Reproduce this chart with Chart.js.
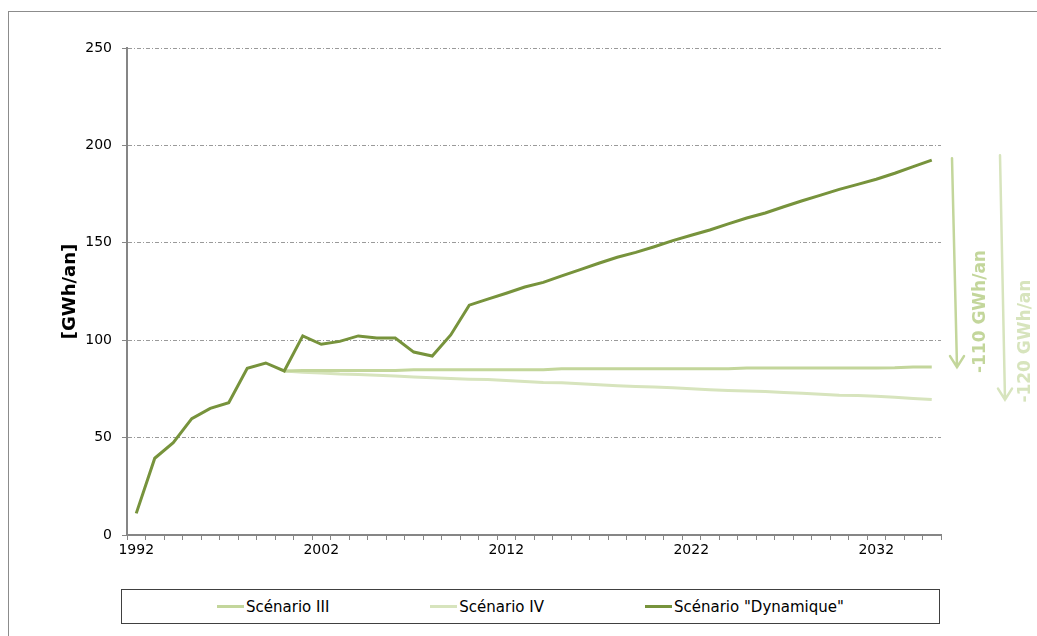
<!DOCTYPE html>
<html lang="fr">
<head>
<meta charset="UTF-8">
<title>Scénarios consommation [GWh/an]</title>
<script src="https://cdn.jsdelivr.net/npm/chart.js"></script>
<style>
  html, body { margin: 0; padding: 0; background: #fff; overflow: hidden; }
  #wrap { position: relative; width: 1037px; height: 636px; overflow: hidden; }
  #frame { position: absolute; left: 8px; top: 11px; width: 1100px; height: 700px; border: 1px solid #8c8c8c; }
  #myChart { position: absolute; left: 0; top: 0; }
  #legend {
    position: absolute; left: 121px; top: 589px; width: 817px; height: 33px;
    border: 1px solid #404040; background: #fff;
    display: flex; justify-content: center; align-items: center; gap: 101px;
    font: 15px "DejaVu Sans", sans-serif; color: #000;
  }
  .item { display: flex; align-items: center; white-space: nowrap; }
  .swatch { display: inline-block; width: 27px; height: 3px; margin-right: 2px; }
</style>
</head>
<body>
<div id="wrap">
  <div id="frame"></div>
  <canvas id="myChart" width="1037" height="636"></canvas>
  <div id="legend"></div>
</div>

<script>
// years on the category axis
var years = [1992, 1993, 1994, 1995, 1996, 1997, 1998, 1999, 2000, 2001,
  2002, 2003, 2004, 2005, 2006, 2007, 2008, 2009, 2010, 2011,
  2012, 2013, 2014, 2015, 2016, 2017, 2018, 2019, 2020, 2021,
  2022, 2023, 2024, 2025, 2026, 2027, 2028, 2029, 2030, 2031,
  2032, 2033, 2034, 2035];

// only every 10th year gets a label
var yearLabels = [1992, 2002, 2012, 2022, 2032];

var yTicks = [0, 50, 100, 150, 200, 250];

// Scénario "Dynamique"
var dynamique = [11.1, 39.4, 47.4, 59.7, 65.0, 67.9, 85.6, 88.3, 84.2, 102.2,
  97.9, 99.4, 102.2, 101.1, 101.1, 93.9, 91.9, 102.7, 118.0, 121.1,
  124.1, 127.3, 129.7, 133.0, 136.2, 139.5, 142.6, 145.1, 148.0, 151.1,
  153.9, 156.6, 159.7, 162.7, 165.3, 168.5, 171.6, 174.5, 177.4, 180.0,
  182.6, 185.7, 189.1, 192.4];

// Scénario III
var scenario3 = [null, null, null, null, null, null, null, null, 84.2, 84.5,
  84.5, 84.5, 84.5, 84.5, 84.5, 84.8, 84.8, 84.8, 84.8, 84.8,
  84.8, 84.8, 84.8, 85.3, 85.3, 85.3, 85.3, 85.3, 85.3, 85.3,
  85.3, 85.3, 85.3, 85.7, 85.7, 85.7, 85.7, 85.7, 85.7, 85.7,
  85.7, 85.8, 86.2, 86.2];

// Scénario IV
var scenario4 = [null, null, null, null, null, null, null, null, 84.2, 83.6,
  83.1, 82.6, 82.4, 82.0, 81.6, 81.1, 80.7, 80.3, 80.0, 79.8,
  79.3, 78.8, 78.3, 78.1, 77.6, 77.1, 76.6, 76.2, 76.0, 75.6,
  75.1, 74.6, 74.2, 73.9, 73.7, 73.2, 72.8, 72.3, 71.8, 71.6,
  71.2, 70.7, 70.1, 69.5];

var colorDyn = '#77933c';
var colorS3 = '#c3d69b';
var colorS4 = '#d7e4bd';
var axisGray = '#868686';

Chart.defaults.font.family = '"DejaVu Sans", sans-serif';
Chart.defaults.font.size = 14;
Chart.defaults.color = '#000';

// arrows "-110 GWh/an" / "-120 GWh/an" on the right of the plot
var gapArrows = {
  id: 'gapArrows',
  afterDraw: function(chart) {
    var ctx = chart.ctx;
    var ys = chart.scales.y;
    var right = chart.chartArea.right;
    var last = years.length - 1;
    var yTop = ys.getPixelForValue(dynamique[last]);
    var y3 = ys.getPixelForValue(scenario3[last]);
    var y4 = ys.getPixelForValue(scenario4[last]);

    function arrow(x1, y1, x2, y2, color) {
      ctx.save();
      ctx.strokeStyle = color;
      ctx.lineWidth = 2.5;
      ctx.lineCap = 'round';
      ctx.beginPath();
      ctx.moveTo(x1, y1);
      ctx.lineTo(x2, y2);
      ctx.moveTo(x2 - 7, y2 - 11);
      ctx.lineTo(x2, y2);
      ctx.lineTo(x2 + 7, y2 - 11);
      ctx.stroke();
      ctx.restore();
    }
    function label(text, x, y, color) {
      ctx.save();
      ctx.translate(x, y);
      ctx.rotate(-Math.PI / 2);
      ctx.fillStyle = color;
      ctx.font = 'bold 17px "DejaVu Sans", sans-serif';
      ctx.textAlign = 'left';
      ctx.textBaseline = 'middle';
      ctx.fillText(text, 0, 0);
      ctx.restore();
    }

    arrow(right + 11, yTop - 2, right + 16, y3, colorS3);
    label('-110 GWh/an', right + 40, y3 + 6, colorS3);
    arrow(right + 59, yTop - 5, right + 64, y4, colorS4);
    label('-120 GWh/an', right + 85, y4 + 3, colorS4);
  }
};

const ctx = document.getElementById('myChart');

new Chart(ctx, {
  type: 'line',
  data: {
    labels: years,
    datasets: [{
      label: 'Scénario "Dynamique"',
      data: dynamique,
      borderColor: colorDyn,
      backgroundColor: colorDyn,
      borderWidth: 3,
      pointRadius: 0,
      tension: 0
    }, {
      label: 'Scénario III',
      data: scenario3,
      borderColor: colorS3,
      backgroundColor: colorS3,
      borderWidth: 3,
      pointRadius: 0,
      tension: 0
    }, {
      label: 'Scénario IV',
      data: scenario4,
      borderColor: colorS4,
      backgroundColor: colorS4,
      borderWidth: 3,
      pointRadius: 0,
      tension: 0
    }]
  },
  options: {
    responsive: false,
    animation: false,
    devicePixelRatio: 1,
    layout: { padding: { top: 48, right: 96, left: 0, bottom: 0 } },
    plugins: {
      legend: { display: false },
      tooltip: { enabled: false }
    },
    scales: {
      x: {
        type: 'category',
        offset: true,
        afterFit: function(scale) { scale.height = 101; },
        grid: {
          offset: true,
          drawOnChartArea: false,
          drawTicks: true,
          tickLength: 5,
          tickColor: axisGray,
          tickWidth: 1
        },
        border: { display: true, color: axisGray, width: 2 },
        ticks: {
          autoSkip: false,
          maxRotation: 0,
          padding: 2,
          callback: function(value, index) {
            var yr = years[index];
            return yearLabels.indexOf(yr) >= 0 ? String(yr) : '';
          }
        }
      },
      y: {
        min: yTicks[0],
        max: yTicks[yTicks.length - 1],
        afterFit: function(scale) { scale.width = 127; },
        afterBuildTicks: function(scale) {
          scale.ticks = yTicks.map(function(v) { return { value: v }; });
        },
        grid: {
          color: '#9a9a9a',
          lineWidth: 1,
          drawTicks: true,
          tickLength: 5,
          tickColor: axisGray,
          tickWidth: 1,
          tickBorderDash: []
        },
        border: { display: true, color: axisGray, width: 2, dash: [4, 2, 1, 2] },
        ticks: { padding: 10 },
        title: {
          display: true,
          text: '[GWh/an]',
          font: { size: 18, weight: 'bold' },
          padding: { top: 60, bottom: 0 }
        }
      }
    }
  },
  plugins: [gapArrows]
});

// legend below the chart, in the reference order
var legendItems = [
  { text: 'Scénario III', color: colorS3 },
  { text: 'Scénario IV', color: colorS4 },
  { text: 'Scénario "Dynamique"', color: colorDyn }
];
var legendDiv = document.getElementById('legend');
legendItems.forEach(function(it) {
  var d = document.createElement('div');
  d.className = 'item';
  var sw = document.createElement('span');
  sw.className = 'swatch';
  sw.style.background = it.color;
  d.appendChild(sw);
  d.appendChild(document.createTextNode(it.text));
  legendDiv.appendChild(d);
});
</script>
</body>
</html>
